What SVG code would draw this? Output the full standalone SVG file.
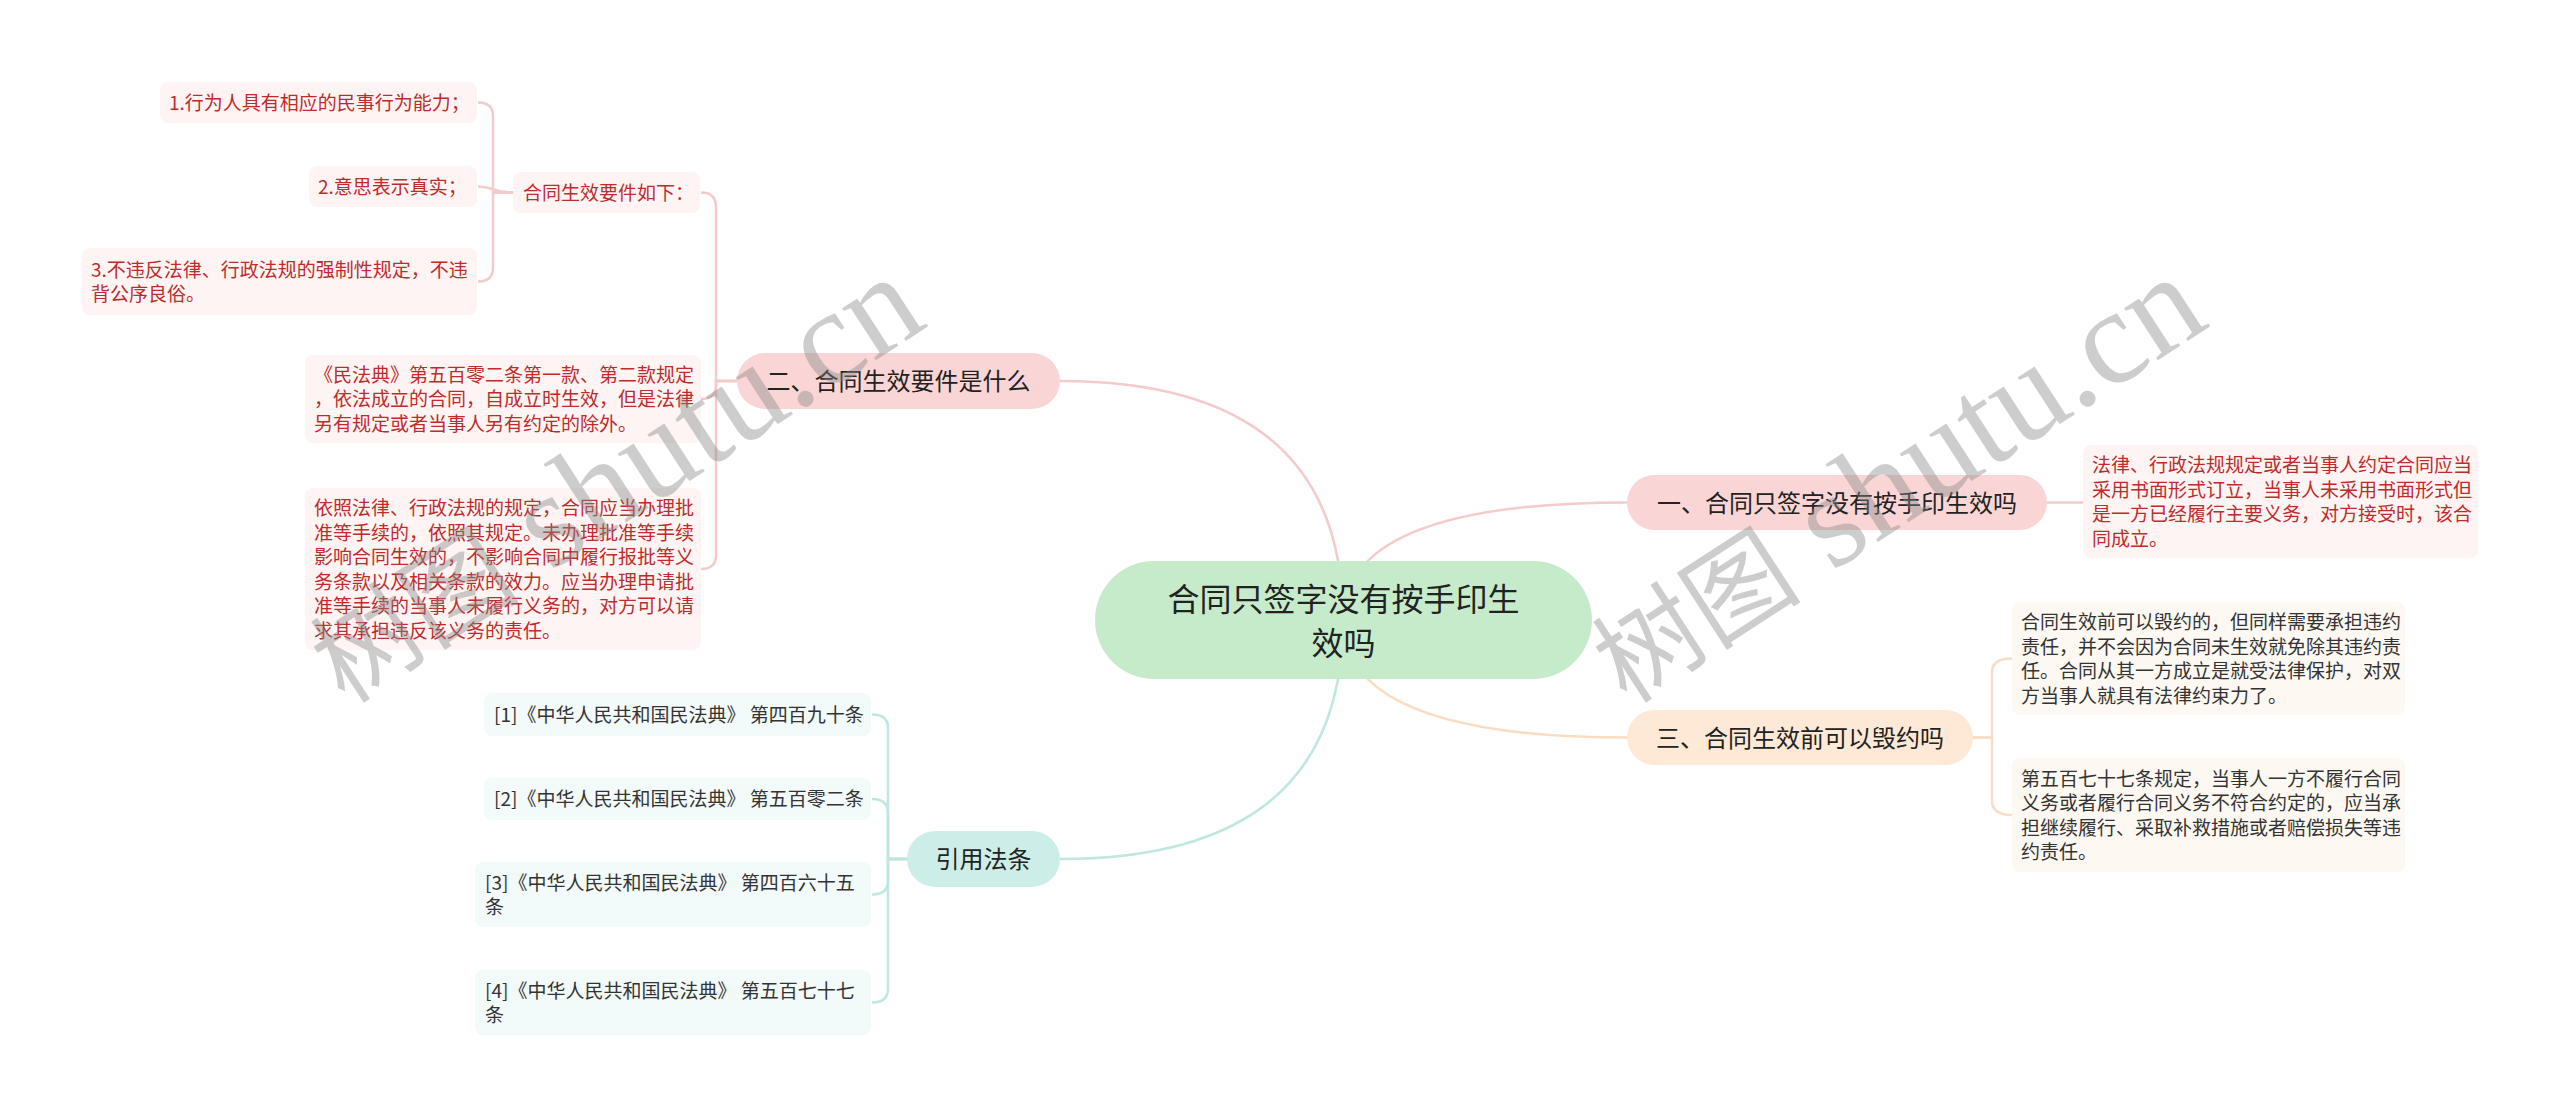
<svg xmlns="http://www.w3.org/2000/svg" width="2560" height="1117" viewBox="0 0 2560 1117">
<style>
text{font-family:"Noto Sans CJK SC","Noto Sans",sans-serif;}
.root{fill:#c6ebca;}
.pink{fill:#f9d6d5;}
.peach{fill:#fde9d5;}
.cyan{fill:#cdeee8;}
.lp{fill:#fef4f4;}
.lc{fill:#fdf9f2;}
.lq{fill:#f3fafa;}
.t1{font-size:32px;fill:#222;text-anchor:middle;}
.t2{font-size:24px;fill:#222;text-anchor:middle;}
.tr{font-size:19px;fill:#bf2b2b;}
.td{font-size:19px;fill:#333;}
.cp{fill:none;stroke:#f4caca;stroke-width:2.5;}
.cs{fill:none;stroke:#fbdcc2;stroke-width:2.5;}
.cc{fill:none;stroke:#bfe7e0;stroke-width:2.5;}
.wm{font-family:"Liberation Serif","Noto Sans CJK SC",serif;font-size:135px;fill:#888;fill-opacity:0.42;}
</style>
<rect width="2560" height="1117" fill="#ffffff"/>
<g id="connectors">
<path class="cp" d="M1343 620 Q1343 381 1060 381"/>
<path class="cp" d="M1343 620 Q1343 502.5 1627 502.5"/>
<path class="cs" d="M1343 620 Q1343 737.5 1627 737.5"/>
<path class="cc" d="M1343 620 Q1343 859 1060 859"/>
<path class="cp" d="M2047 502.5 H2083"/>
<path class="cp" d="M737 381 H716 V207 Q716 192.5 701 192.5"/>
<path class="cp" d="M737 381 H716 V385 Q716 399 701 399"/>
<path class="cp" d="M737 381 H716 V555 Q716 569 701 569"/>
<path class="cp" d="M513 192.5 H493 V116 Q493 102.5 478 102.5"/>
<path class="cp" d="M513 192.5 C493 192.5 493 186.5 478 186.5"/>
<path class="cp" d="M513 192.5 H493 V268 Q493 281.5 478 281.5"/>
<path class="cc" d="M907 859 H888 V728 Q888 714.5 872 714.5"/>
<path class="cc" d="M907 859 H888 V813 Q888 799 872 799"/>
<path class="cc" d="M907 859 H888 V881 Q888 894.5 872 894.5"/>
<path class="cc" d="M907 859 H888 V989 Q888 1002.5 872 1002.5"/>
<path class="cs" d="M1973 737.5 H1992 V672 Q1992 658.5 2012 658.5"/>
<path class="cs" d="M1973 737.5 H1992 V801 Q1992 815 2012 815"/>
</g>
<g id="root">
<rect class="root" x="1095" y="561" width="497" height="118" rx="59"/>
<text class="t1" x="1343.5" y="611">合同只签字没有按手印生</text>
<text class="t1" x="1343.5" y="655">效吗</text>
</g>
<g id="n1">
<rect class="pink" x="1627" y="475" width="420" height="55" rx="27.5"/>
<text class="t2" x="1837" y="511.5">一、合同只签字没有按手印生效吗</text>
</g>
<g id="n1c">
<rect class="lp" x="2083" y="445" width="395" height="113" rx="8"/>
<text class="tr" x="2092" y="472">法律、行政法规规定或者当事人约定合同应当</text>
<text class="tr" x="2092" y="496.5">采用书面形式订立，当事人未采用书面形式但</text>
<text class="tr" x="2092" y="521">是一方已经履行主要义务，对方接受时，该合</text>
<text class="tr" x="2092" y="545.5">同成立。</text>
</g>
<g id="n2">
<rect class="pink" x="737" y="353" width="323" height="56" rx="28"/>
<text class="t2" x="898.5" y="390">二、合同生效要件是什么</text>
</g>
<g id="n2a">
<rect class="lp" x="513" y="172" width="187" height="41" rx="8"/>
<text class="tr" x="523" y="199.7">合同生效要件如下：</text>
</g>
<g id="n2a1">
<rect class="lp" x="160" y="82" width="317" height="41" rx="8"/>
<text class="tr" x="169" y="109.7">1.行为人具有相应的民事行为能力；</text>
</g>
<g id="n2a2">
<rect class="lp" x="309" y="166" width="168" height="41" rx="8"/>
<text class="tr" x="318" y="193.7">2.意思表示真实；</text>
</g>
<g id="n2a3">
<rect class="lp" x="82" y="248" width="395" height="67" rx="8"/>
<text class="tr" x="91" y="276.5">3.不违反法律、行政法规的强制性规定，不违</text>
<text class="tr" x="91" y="301">背公序良俗。</text>
</g>
<g id="n2b">
<rect class="lp" x="305" y="355" width="396" height="88" rx="8"/>
<text class="tr" x="314" y="381.7">《民法典》第五百零二条第一款、第二款规定</text>
<text class="tr" x="314" y="406.2">，依法成立的合同，自成立时生效，但是法律</text>
<text class="tr" x="314" y="430.7">另有规定或者当事人另有约定的除外。</text>
</g>
<g id="n2c">
<rect class="lp" x="305" y="488" width="396" height="162" rx="8"/>
<text class="tr" x="314" y="515">依照法律、行政法规的规定，合同应当办理批</text>
<text class="tr" x="314" y="539.5">准等手续的，依照其规定。未办理批准等手续</text>
<text class="tr" x="314" y="564">影响合同生效的，不影响合同中履行报批等义</text>
<text class="tr" x="314" y="588.5">务条款以及相关条款的效力。应当办理申请批</text>
<text class="tr" x="314" y="613">准等手续的当事人未履行义务的，对方可以请</text>
<text class="tr" x="314" y="637.5">求其承担违反该义务的责任。</text>
</g>
<g id="n3">
<rect class="peach" x="1627" y="710" width="346" height="55" rx="27.5"/>
<text class="t2" x="1800" y="746.6">三、合同生效前可以毁约吗</text>
</g>
<g id="n3a">
<rect class="lc" x="2012" y="602" width="393" height="113" rx="8"/>
<text class="td" x="2021" y="629">合同生效前可以毁约的，但同样需要承担违约</text>
<text class="td" x="2021" y="653.5">责任，并不会因为合同未生效就免除其违约责</text>
<text class="td" x="2021" y="678">任。合同从其一方成立是就受法律保护，对双</text>
<text class="td" x="2021" y="702.5">方当事人就具有法律约束力了。</text>
</g>
<g id="n3b">
<rect class="lc" x="2012" y="758" width="393" height="114" rx="8"/>
<text class="td" x="2021" y="785.5">第五百七十七条规定，当事人一方不履行合同</text>
<text class="td" x="2021" y="810">义务或者履行合同义务不符合约定的，应当承</text>
<text class="td" x="2021" y="834.5">担继续履行、采取补救措施或者赔偿损失等违</text>
<text class="td" x="2021" y="859">约责任。</text>
</g>
<g id="n4">
<rect class="cyan" x="907" y="831" width="153" height="56" rx="28"/>
<text class="t2" x="983.5" y="868">引用法条</text>
</g>
<g id="n4a">
<rect class="lq" x="484" y="693" width="387" height="43" rx="8"/>
<text class="td" x="494" y="721.7">[1]《中华人民共和国民法典》 第四百九十条</text>
</g>
<g id="n4b">
<rect class="lq" x="484" y="778" width="387" height="42" rx="8"/>
<text class="td" x="494" y="806">[2]《中华人民共和国民法典》 第五百零二条</text>
</g>
<g id="n4c">
<rect class="lq" x="475" y="862" width="396" height="65" rx="8"/>
<text class="td" x="485" y="889.5">[3]《中华人民共和国民法典》 第四百六十五</text>
<text class="td" x="485" y="914">条</text>
</g>
<g id="n4d">
<rect class="lq" x="475" y="970" width="396" height="65" rx="8"/>
<text class="td" x="485" y="997.5">[4]《中华人民共和国民法典》 第五百七十七</text>
<text class="td" x="485" y="1022">条</text>
</g>
<g id="watermark">
<text class="wm" transform="translate(345 705) rotate(-33)"><tspan font-size="105">树图</tspan> shutu.cn</text>
<text class="wm" transform="translate(1627 705) rotate(-33)"><tspan font-size="105">树图</tspan> shutu.cn</text>
</g>
</svg>
